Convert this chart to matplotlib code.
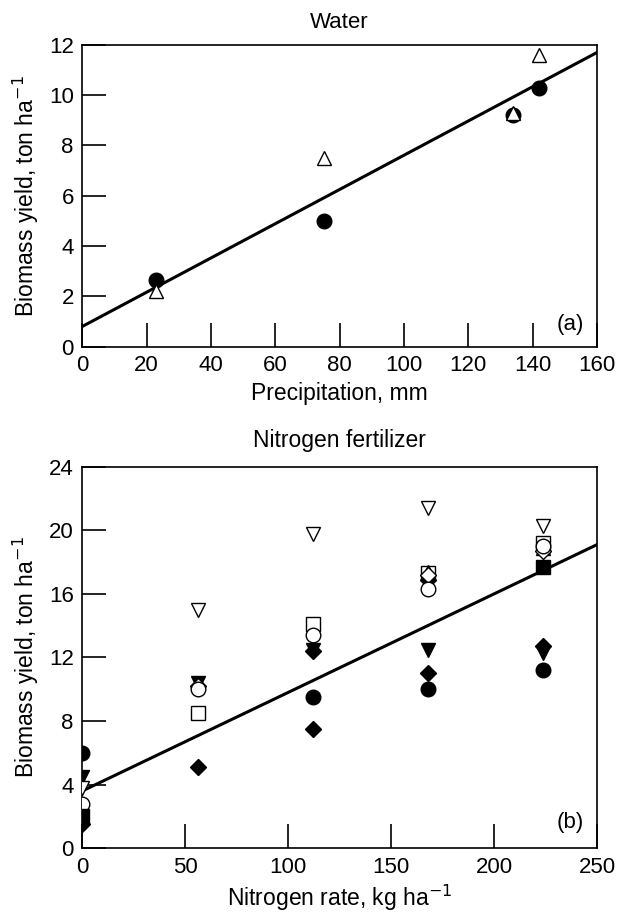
import numpy as np
import matplotlib
matplotlib.use("Agg")
import matplotlib.pyplot as plt

plt.rcParams['font.family'] = ['Liberation Sans', 'DejaVu Sans']

# panel (a): water
precip = [23, 75, 134, 142]
water_filled = [2.65, 5.0, 9.2, 10.3]
water_open = [2.2, 7.5, 9.3, 11.6]
water_fit = [0.8, 11.7]   # fitted line at x = 0 and x = 160

# panel (b): nitrogen
n_rate = [0, 56, 112, 168, 224]
nan = np.nan
n_circle_f = [6.0, nan, 9.5, 10.0, 11.2]
n_circle_o = [2.8, 10.0, 13.4, 16.3, 19.0]
n_diamond_f = [1.5, 5.1, 7.5, 11.0, 12.7]
n_diamond_f2 = [nan, nan, 12.4, 16.9, nan]
n_diamond_o = [nan, 10.2, nan, 17.2, 18.7]
n_tri_down_f = [4.5, 10.4, 12.5, 12.5, 12.3]
n_tri_down_o = [3.8, 15.0, 19.8, 21.4, 20.3]
n_tri_up_o = [nan, nan, nan, 17.4, 18.9]
n_square_f = [2.0, nan, nan, nan, 17.7]
n_square_o = [nan, 8.5, 14.1, 17.3, 19.2]
n_fit = [3.6, 19.1]       # fitted line at x = 0 and x = 250

fig = plt.figure(figsize=(6.18, 9.17), dpi=100)
ax1 = fig.add_axes([0.133, 0.622, 0.833, 0.329])
ax2 = fig.add_axes([0.133, 0.075, 0.833, 0.416])

ms = 10.5
op = dict(mfc='white', mec='black', mew=1.0, ls='none', ms=ms)
fl = dict(mfc='black', mec='black', ls='none', ms=ms)

# (a)
ax1.plot([0, 160], water_fit, color='black', lw=2.2, zorder=2)
ax1.plot(precip, water_filled, marker='o', zorder=3, **fl)
ax1.plot(precip, water_open, marker='^', zorder=4, **op)
ax1.set_xlim(0, 160)
ax1.set_ylim(0, 12)
ax1.set_xticks(range(0, 161, 20))
ax1.set_yticks(range(0, 13, 2))
ax1.set_title('Water', fontsize=16, pad=12)
ax1.set_xlabel('Precipitation, mm', fontsize=16.5, labelpad=4)
ax1.set_ylabel('Biomass yield, ton ha$^{-1}$', fontsize=16.5, labelpad=6)
ax1.text(0.975, 0.04, '(a)', transform=ax1.transAxes, ha='right', va='bottom', fontsize=16)

# (b)
ax2.plot([0, 250], n_fit, color='black', lw=2.2, zorder=2)
ax2.plot(n_rate, n_circle_f, marker='o', zorder=3, **fl)
ax2.plot(n_rate, n_diamond_f, marker='D', zorder=3, **dict(fl, ms=8.5))
ax2.plot(n_rate, n_tri_down_f, marker='v', zorder=3, **fl)
ax2.plot(n_rate, n_diamond_f2, marker='D', zorder=3, **dict(fl, ms=8.5))
ax2.plot(n_rate, n_square_o, marker='s', zorder=4, **op)
ax2.plot(n_rate, n_tri_up_o, marker='^', zorder=4, **op)
ax2.plot(n_rate, n_diamond_o, marker='D', zorder=4, **dict(op, ms=8.5))
ax2.plot(n_rate, n_circle_o, marker='o', zorder=5, **op)
ax2.plot(n_rate, n_tri_down_o, marker='v', zorder=5, **op)
ax2.plot(n_rate, n_square_f, marker='s', zorder=6, **fl)
ax2.set_xlim(0, 250)
ax2.set_ylim(0, 24)
ax2.set_xticks(range(0, 251, 50))
ax2.set_yticks(range(0, 25, 4))
ax2.set_title('Nitrogen fertilizer', fontsize=16.5, pad=14)
ax2.set_xlabel('Nitrogen rate, kg ha$^{-1}$', fontsize=16.5, labelpad=4)
ax2.set_ylabel('Biomass yield, ton ha$^{-1}$', fontsize=16.5, labelpad=6)
ax2.text(0.975, 0.04, '(b)', transform=ax2.transAxes, ha='right', va='bottom', fontsize=16)

for ax in (ax1, ax2):
    for s in ax.spines.values():
        s.set_linewidth(1.2)
    ax.tick_params(direction='in', length=17, width=1.2, labelsize=16, pad=6,
                   top=False, right=False)

fig.savefig('out.png', dpi=100)
